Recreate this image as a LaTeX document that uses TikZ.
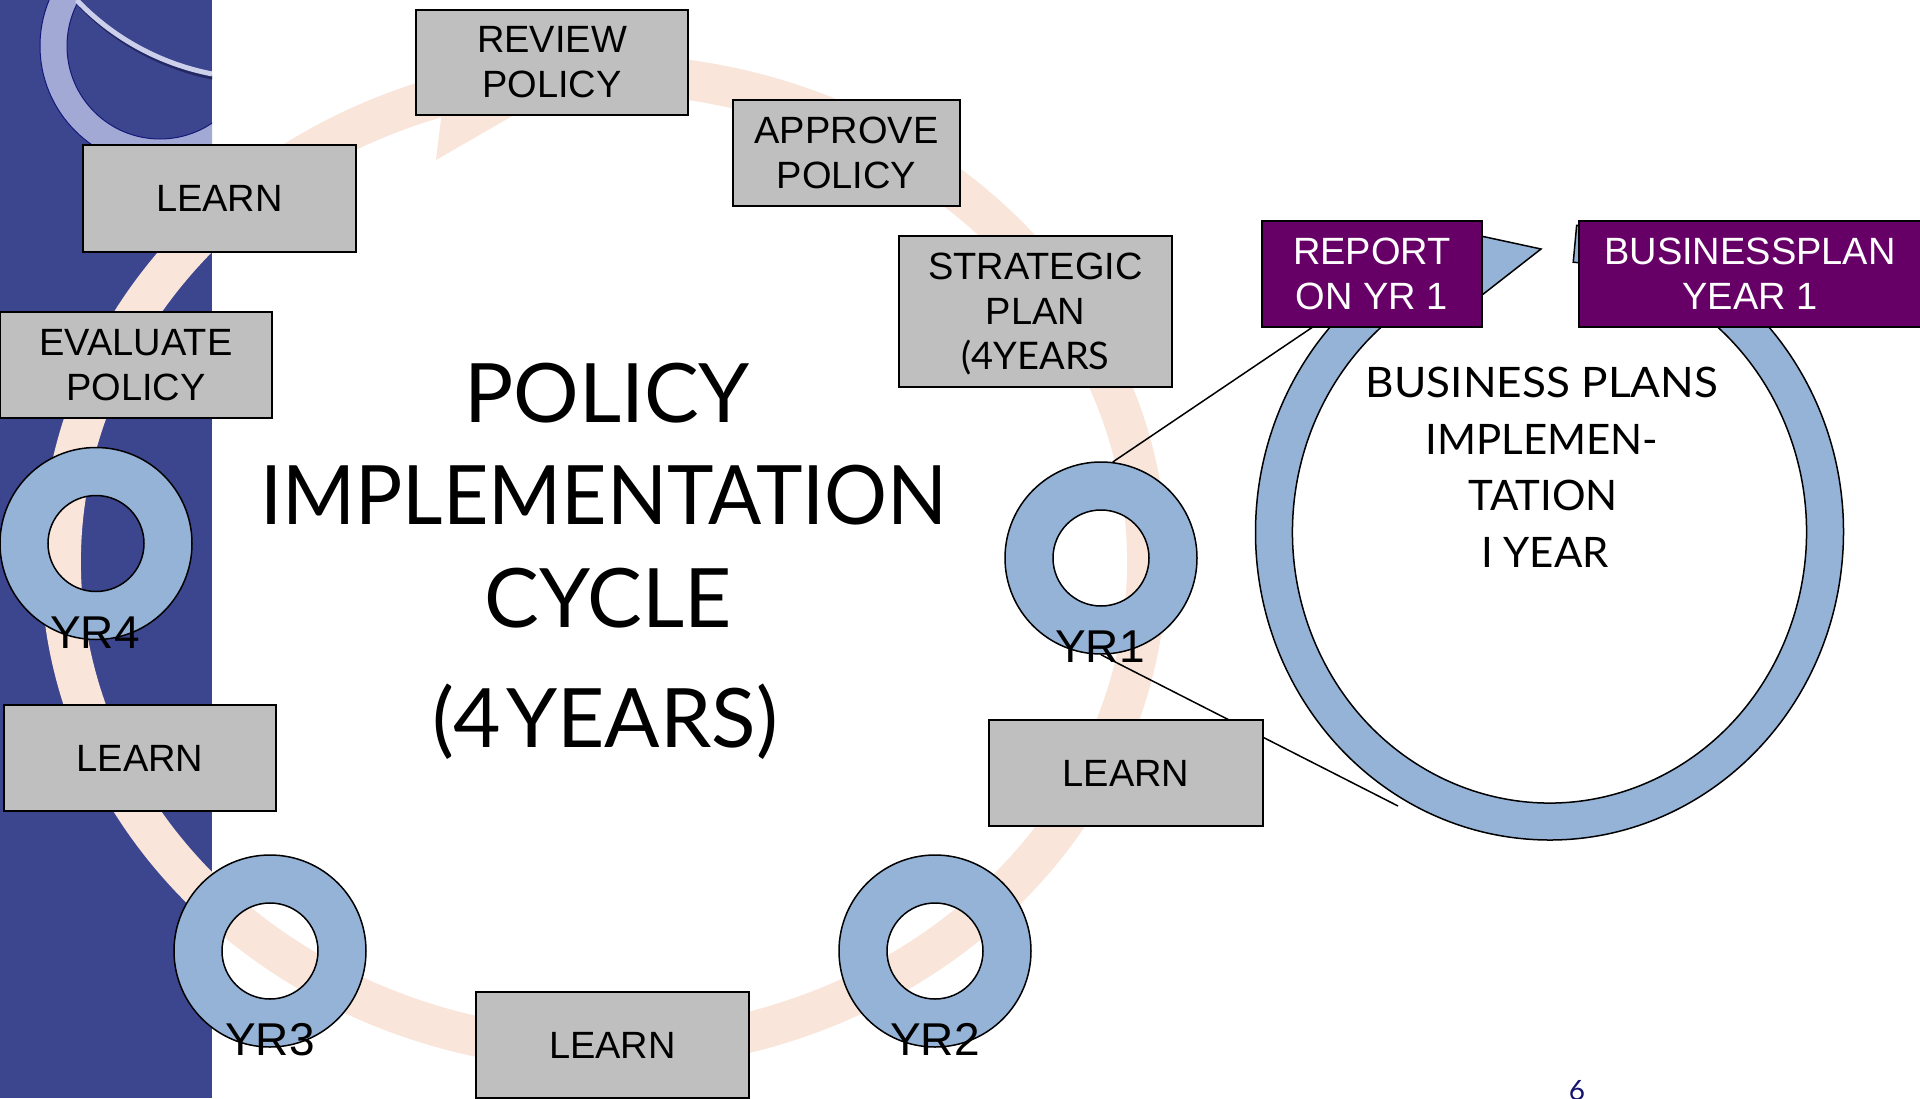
\documentclass[tikz,border=0pt]{standalone}
\usepackage{fontspec}
\setmainfont{Liberation Sans}
\newfontfamily\gill{Lato}
\usetikzlibrary{calc}
\definecolor{panelblue}{RGB}{60,70,143}
\definecolor{panelring}{RGB}{163,169,213}
\definecolor{panelline}{RGB}{20,24,120}
\definecolor{panelarc}{RGB}{205,208,235}
\definecolor{panelshadow}{RGB}{35,40,100}
\definecolor{peach}{RGB}{249,229,217}
\definecolor{ringblue}{RGB}{149,179,215}
\definecolor{boxgray}{RGB}{191,191,191}
\definecolor{bppurple}{RGB}{102,0,102}
\definecolor{pagenavy}{RGB}{20,20,110}
\begin{document}
\begin{tikzpicture}[x=1pt,y=-1pt,
  graybox/.style={draw=black, line width=1.5pt, fill=boxgray, inner sep=0pt, align=center, font=\fontsize{38}{45}\selectfont},
  purplebox/.style={draw=black, line width=1.5pt, fill=bppurple, text=white, inner sep=0pt, align=center, font=\fontsize{38}{45}\selectfont},
  ringnode/.style={circle, draw=black, line width=1.5pt, minimum size=192pt, inner sep=0pt},
  holenode/.style={circle, draw=black, line width=1.5pt, minimum size=96pt, inner sep=0pt},
  yrlabel/.style={anchor=base, inner sep=0pt, font=\fontsize{46}{50}\selectfont},
  titletext/.style={anchor=base, inner sep=0pt, font=\gill\fontsize{82}{98}\selectfont},
  bptext/.style={anchor=base, inner sep=0pt, font=\gill\fontsize{42}{57}\selectfont},
  connector/.style={draw=black, line width=1.5pt},
]
\useasboundingbox (0,0) rectangle (1920,1098);
\fill[white] (0,0) rectangle (1920,1098);

% left panel
\fill[panelblue] (0,0) rectangle (212,1098);
\begin{scope}
  \clip (0,0) rectangle (212,1098);
  \fill[panelring, even odd rule] (160,46) circle[radius=120] circle[radius=93];
  \draw[panelline, line width=1pt] (160,46) circle[radius=120];
  \draw[panelline, line width=1pt] (160,46) circle[radius=93];
  \draw[panelshadow, line width=4pt] ($(262,-171)+(136.3:253.5)$) arc[start angle=136.3, end angle=100.9, radius=253.5];
  \draw[panelarc, line width=5pt] ($(260,-175)+(136.3:253.5)$) arc[start angle=136.3, end angle=100.9, radius=253.5];
\end{scope}

% big circular arrow (peach)
\fill[peach] ($(604,562)+(276:563 and 508)$)
  arc[start angle=276, end angle=611.87, x radius=563, y radius=508]
  -- (430,38) -- (585,74) -- (436,160)
  -- ($(604,562)+(611.87:523 and 468)$)
  arc[start angle=611.87, end angle=276, x radius=523, y radius=468] -- cycle;

% business plan circular arrow
\filldraw[fill=ringblue, draw=black, line width=1.5pt, line join=miter]
  ($(1549.5,532)+(275.3:294 and 308)$)
  arc[start angle=275.3, end angle=606, x radius=294, y radius=308]
  -- (1416,222) -- (1541,249) -- (1459,313)
  -- ($(1549.5,532)+(606:257 and 271)$)
  arc[start angle=606, end angle=275.3, x radius=257, y radius=271] -- cycle;

% year rings
\foreach \n/\cx/\cy in {yr1/1101/558, yr2/935/951, yr3/270/951, yr4/96/543.5} {
  \fill[ringblue, even odd rule] (\cx,\cy) circle[radius=96] circle[radius=48];
  \node[ringnode] (\n) at (\cx,\cy) {};
  \node[holenode] (\n h) at (\cx,\cy) {};
}

% zoom connectors
\coordinate (bpa) at (1335,312);
\coordinate (bpb) at (1398,806);
\draw[connector] (yr1.83) -- (bpa);
\draw[connector] (yr1.south) -- (bpb);

% gray boxes
\node[graybox, minimum width=272pt, minimum height=105pt] (review) at (552,62.5) {REVIEW\\POLICY};
\node[graybox, minimum width=227pt, minimum height=106pt, text depth=0pt] (approve) at (846.5,153) {APPROVE\\POLICY};
\node[graybox, minimum width=273pt, minimum height=151pt, text depth=0pt] (strategic) at (1035.5,311.5) {STRATEGIC\\PLAN\\{\gill (4YEARS}};
\node[graybox, minimum width=273pt, minimum height=107pt] (learntop) at (219.5,198.5) {LEARN};
\node[graybox, minimum width=272pt, minimum height=106pt] (evaluate) at (136,365) {EVALUATE\\POLICY};
\node[graybox, minimum width=272pt, minimum height=106pt] (learnleft) at (140,758) {LEARN};
\node[graybox, minimum width=273pt, minimum height=106pt] (learnbottom) at (612.5,1045) {LEARN};
\node[graybox, minimum width=274pt, minimum height=106pt] (learnright) at (1126,773) {LEARN};

% purple boxes
\node[purplebox, minimum width=220pt, minimum height=106pt] (report) at (1372,274) {REPORT\\ON YR 1};
\node[purplebox, minimum width=342pt, minimum height=106pt] (bplan) at (1750,274) {BUSINESSPLAN\\YEAR 1};

% year labels
\node[yrlabel] (yr1lab) at (1100,662) {YR1};
\node[yrlabel] (yr2lab) at (935,1055) {YR2};
\node[yrlabel] (yr3lab) at (270,1055) {YR3};
\node[yrlabel] (yr4lab) at (95,648) {YR4};

% title
\node[titletext] (t1) at (607,422) {POLICY};
\node[titletext] (t2) at (604,524) {\scalebox{0.96}[1]{IMPLEMENTATION}};
\node[titletext] (t3) at (608,627) {CYCLE};
\node[titletext] (t4) at (605,747) {(4 \kern-0.2em YEARS)};

% business plan text
\node[bptext] (b1) at (1542,397) {\scalebox{1.05}[1]{BUSINESS PLANS}};
\node[bptext] (b2) at (1542,454) {IMPLEMEN-};
\node[bptext] (b3) at (1543,510) {TATION};
\node[bptext] (b4) at (1545,567) {I YEAR};

% page number
\node[anchor=base, inner sep=0pt, text=pagenavy, font=\gill\fontsize{28}{32}\selectfont] (pagenum) at (1577,1100) {6};
\end{tikzpicture}
\end{document}
